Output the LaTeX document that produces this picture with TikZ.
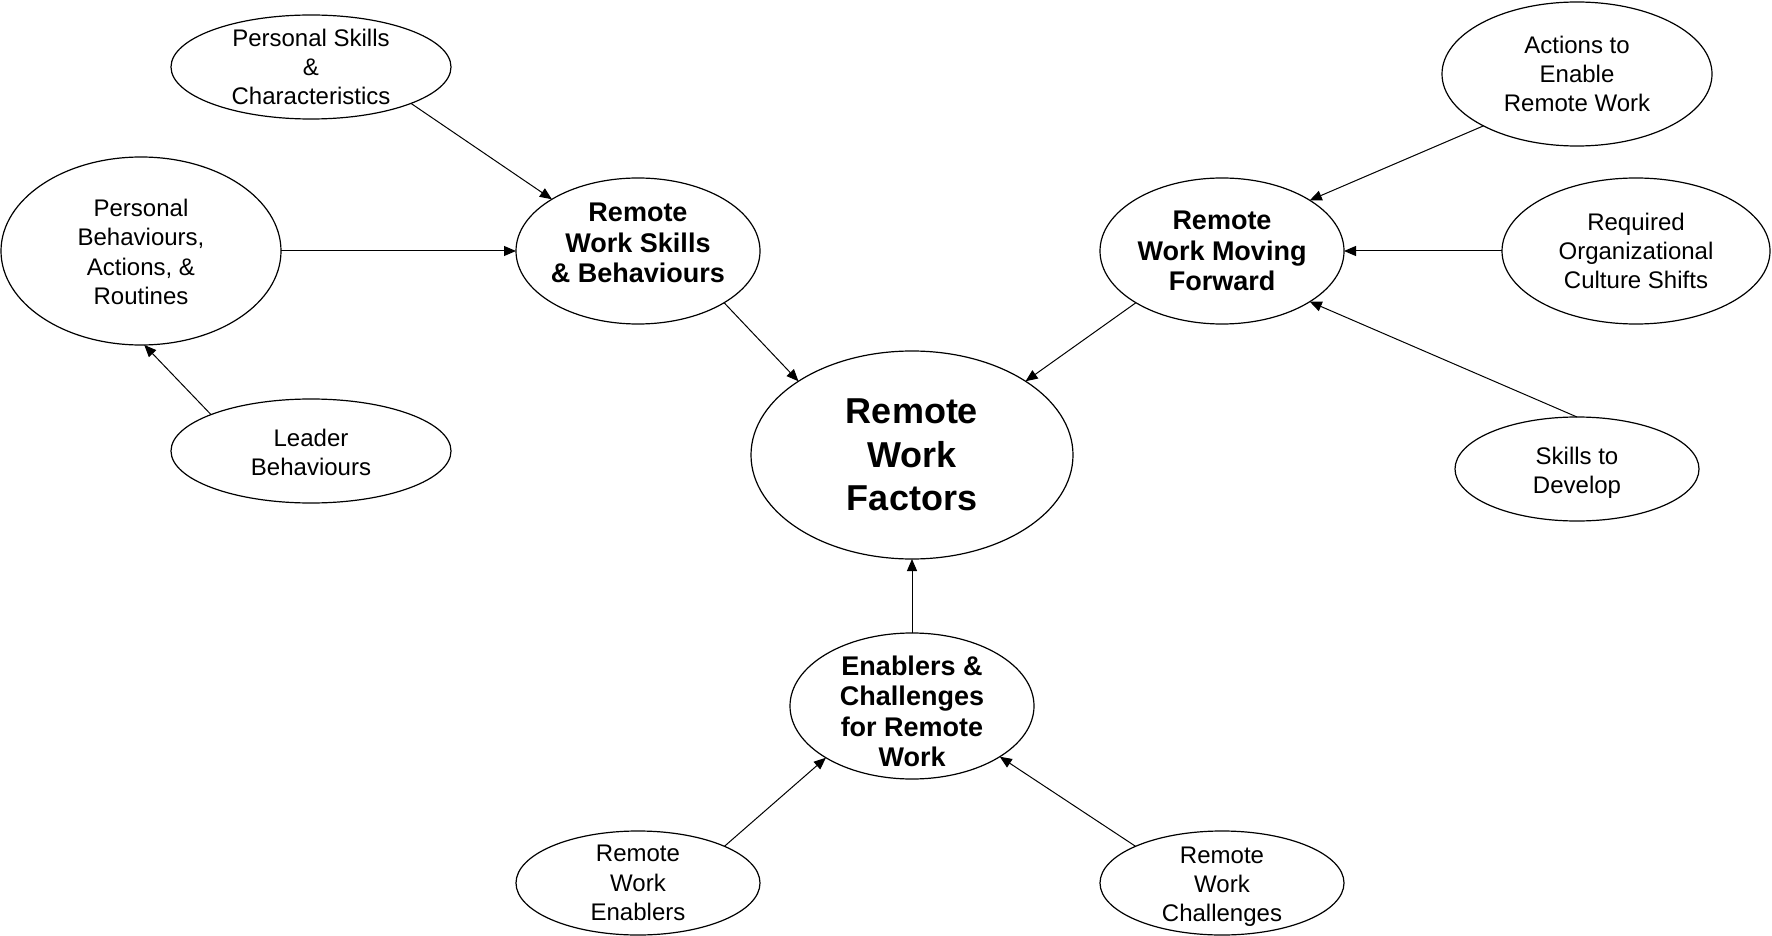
\documentclass[tikz,border=0pt]{standalone}
\usepackage{fontspec}
\setmainfont{Liberation Sans}
\usetikzlibrary{shapes.geometric,arrows.meta}
\tikzset{
  oval/.style={ellipse, draw, line width=0.6pt, inner sep=0pt, outer sep=0pt},
  smalltxt/.style={align=center, inner sep=0pt, font=\fontsize{12pt}{14.6pt}\selectfont},
  midtxt/.style={align=center, inner sep=0pt, font=\fontsize{13.5pt}{15.25pt}\selectfont\bfseries},
  bigtxt/.style={align=center, inner sep=0pt, font=\fontsize{18pt}{21.75pt}\selectfont\bfseries},
  conn/.style={-{Triangle[length=6pt,width=5pt]}, line width=0.5pt}
}
\begin{document}
\begin{tikzpicture}[x=0.5pt,y=-0.5pt]
\fill[white] (0,0) rectangle (1772,936);
\useasboundingbox (0,0) rectangle (1772,936);
% ellipses
\node[oval, minimum width=140pt, minimum height=52pt] (ps) at (311,67) {};
\node[oval, minimum width=140pt, minimum height=94pt] (pb) at (141,251) {};
\node[oval, minimum width=122pt, minimum height=73pt] (rwsb) at (638,251) {};
\node[oval, minimum width=140pt, minimum height=52pt] (leader) at (311,451) {};
\node[oval, minimum width=135pt, minimum height=72pt] (actions) at (1577,74) {};
\node[oval, minimum width=122pt, minimum height=73pt] (rwmf) at (1222,251) {};
\node[oval, minimum width=134pt, minimum height=73pt] (req) at (1636,251) {};
\node[oval, minimum width=122pt, minimum height=52pt] (skills) at (1577,469) {};
\node[oval, minimum width=161pt, minimum height=104pt] (central) at (912,455) {};
\node[oval, minimum width=122pt, minimum height=73pt] (ec) at (912,706) {};
\node[oval, minimum width=122pt, minimum height=52pt] (rwe) at (638,883) {};
\node[oval, minimum width=122pt, minimum height=52pt] (rwc) at (1222,883) {};
% texts
\node[smalltxt] (ps-t) at (ps.center) {Personal Skills\\\&\\Characteristics};
\node[smalltxt, yshift=-0.5pt] (pb-t) at (pb.center) {Personal\\Behaviours,\\Actions, \&\\Routines};
\node[midtxt, yshift=4pt] (rwsb-t) at (rwsb.center) {Remote\\Work Skills\\\& Behaviours};
\node[smalltxt, yshift=-0.75pt] (leader-t) at (leader.center) {Leader\\Behaviours};
\node[smalltxt] (actions-t) at (actions.center) {Actions to\\Enable\\Remote Work};
\node[midtxt] (rwmf-t) at (rwmf.center) {Remote\\Work Moving\\Forward};
\node[smalltxt] (req-t) at (req.center) {Required\\Organizational\\Culture Shifts};
\node[smalltxt, yshift=-1.75pt] (skills-t) at (skills.center) {Skills to\\Develop};
\node[bigtxt] (central-t) at (central.center) {Remote\\Work\\Factors};
\node[midtxt, yshift=-2.75pt] (ec-t) at (ec.center) {Enablers \&\\Challenges\\for Remote\\Work};
\node[smalltxt] (rwe-t) at (rwe.center) {Remote\\Work\\Enablers};
\node[smalltxt, yshift=-1.75pt] (rwc-t) at (rwc.center) {Remote\\Work\\Challenges};
% connectors
\draw[conn] (ps.-20) -- (rwsb.149);
\draw[conn] (pb.east) -- (rwsb.west);
\draw[conn] (leader.160) -- (pb.-88);
\draw[conn] (rwsb.-31) -- (central.147);
\draw[conn] (rwmf.-149) -- (central.33);
\draw[conn] (actions.-151) -- (rwmf.30);
\draw[conn] (req.west) -- (rwmf.east);
\draw[conn] (skills.north) -- (rwmf.-30);
\draw[conn] (ec.north) -- (central.south);
\draw[conn] (rwe.23) -- (ec.-149);
\draw[conn] (rwc.157) -- (ec.-30);
\end{tikzpicture}
\end{document}
